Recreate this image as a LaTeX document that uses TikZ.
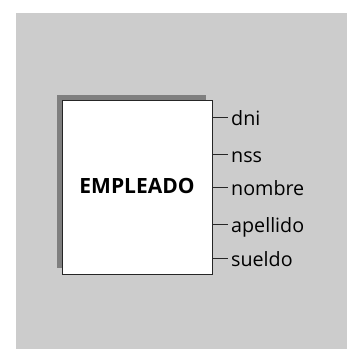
\documentclass[tikz,border=0pt]{standalone}
\usepackage{fontspec}
\setmainfont{Open Sans}
\definecolor{bg}{HTML}{CCCCCC}
\definecolor{shadowc}{HTML}{7F7F7F}
\tikzset{
  lbl/.style={anchor=base west, inner sep=0pt, font=\fontsize{19.7}{20}\selectfont},
  tick/.style={line width=1pt, draw=black!85}
}
\begin{document}
\begin{tikzpicture}[x=1pt,y=-1pt]
\useasboundingbox (0,0) rectangle (347,349);
\fill[bg] (16,13) rectangle (347,349);
\fill[shadowc] (57,95) rectangle (206,268);
\node[draw=black!85, line width=1pt, fill=white, minimum width=150pt, minimum height=174pt, inner sep=0pt, anchor=north west] (emp) at (62,100) {};
\node[font=\bfseries\fontsize{21}{21}\selectfont, inner sep=0pt, anchor=base] (title) at (137,193) {EMPLEADO};
\foreach \n/\y in {dni/117.5, nss/154.5, nombre/187, apellido/224, sueldo/258}{
  \coordinate (s\n) at (emp.east |- 0,\y);
  \coordinate (e\n) at (228,\y);
  \node[lbl] (\n) at (231,\y+8) {\n};
  \draw[tick] (s\n) -- (e\n);
}
\end{tikzpicture}
\end{document}
